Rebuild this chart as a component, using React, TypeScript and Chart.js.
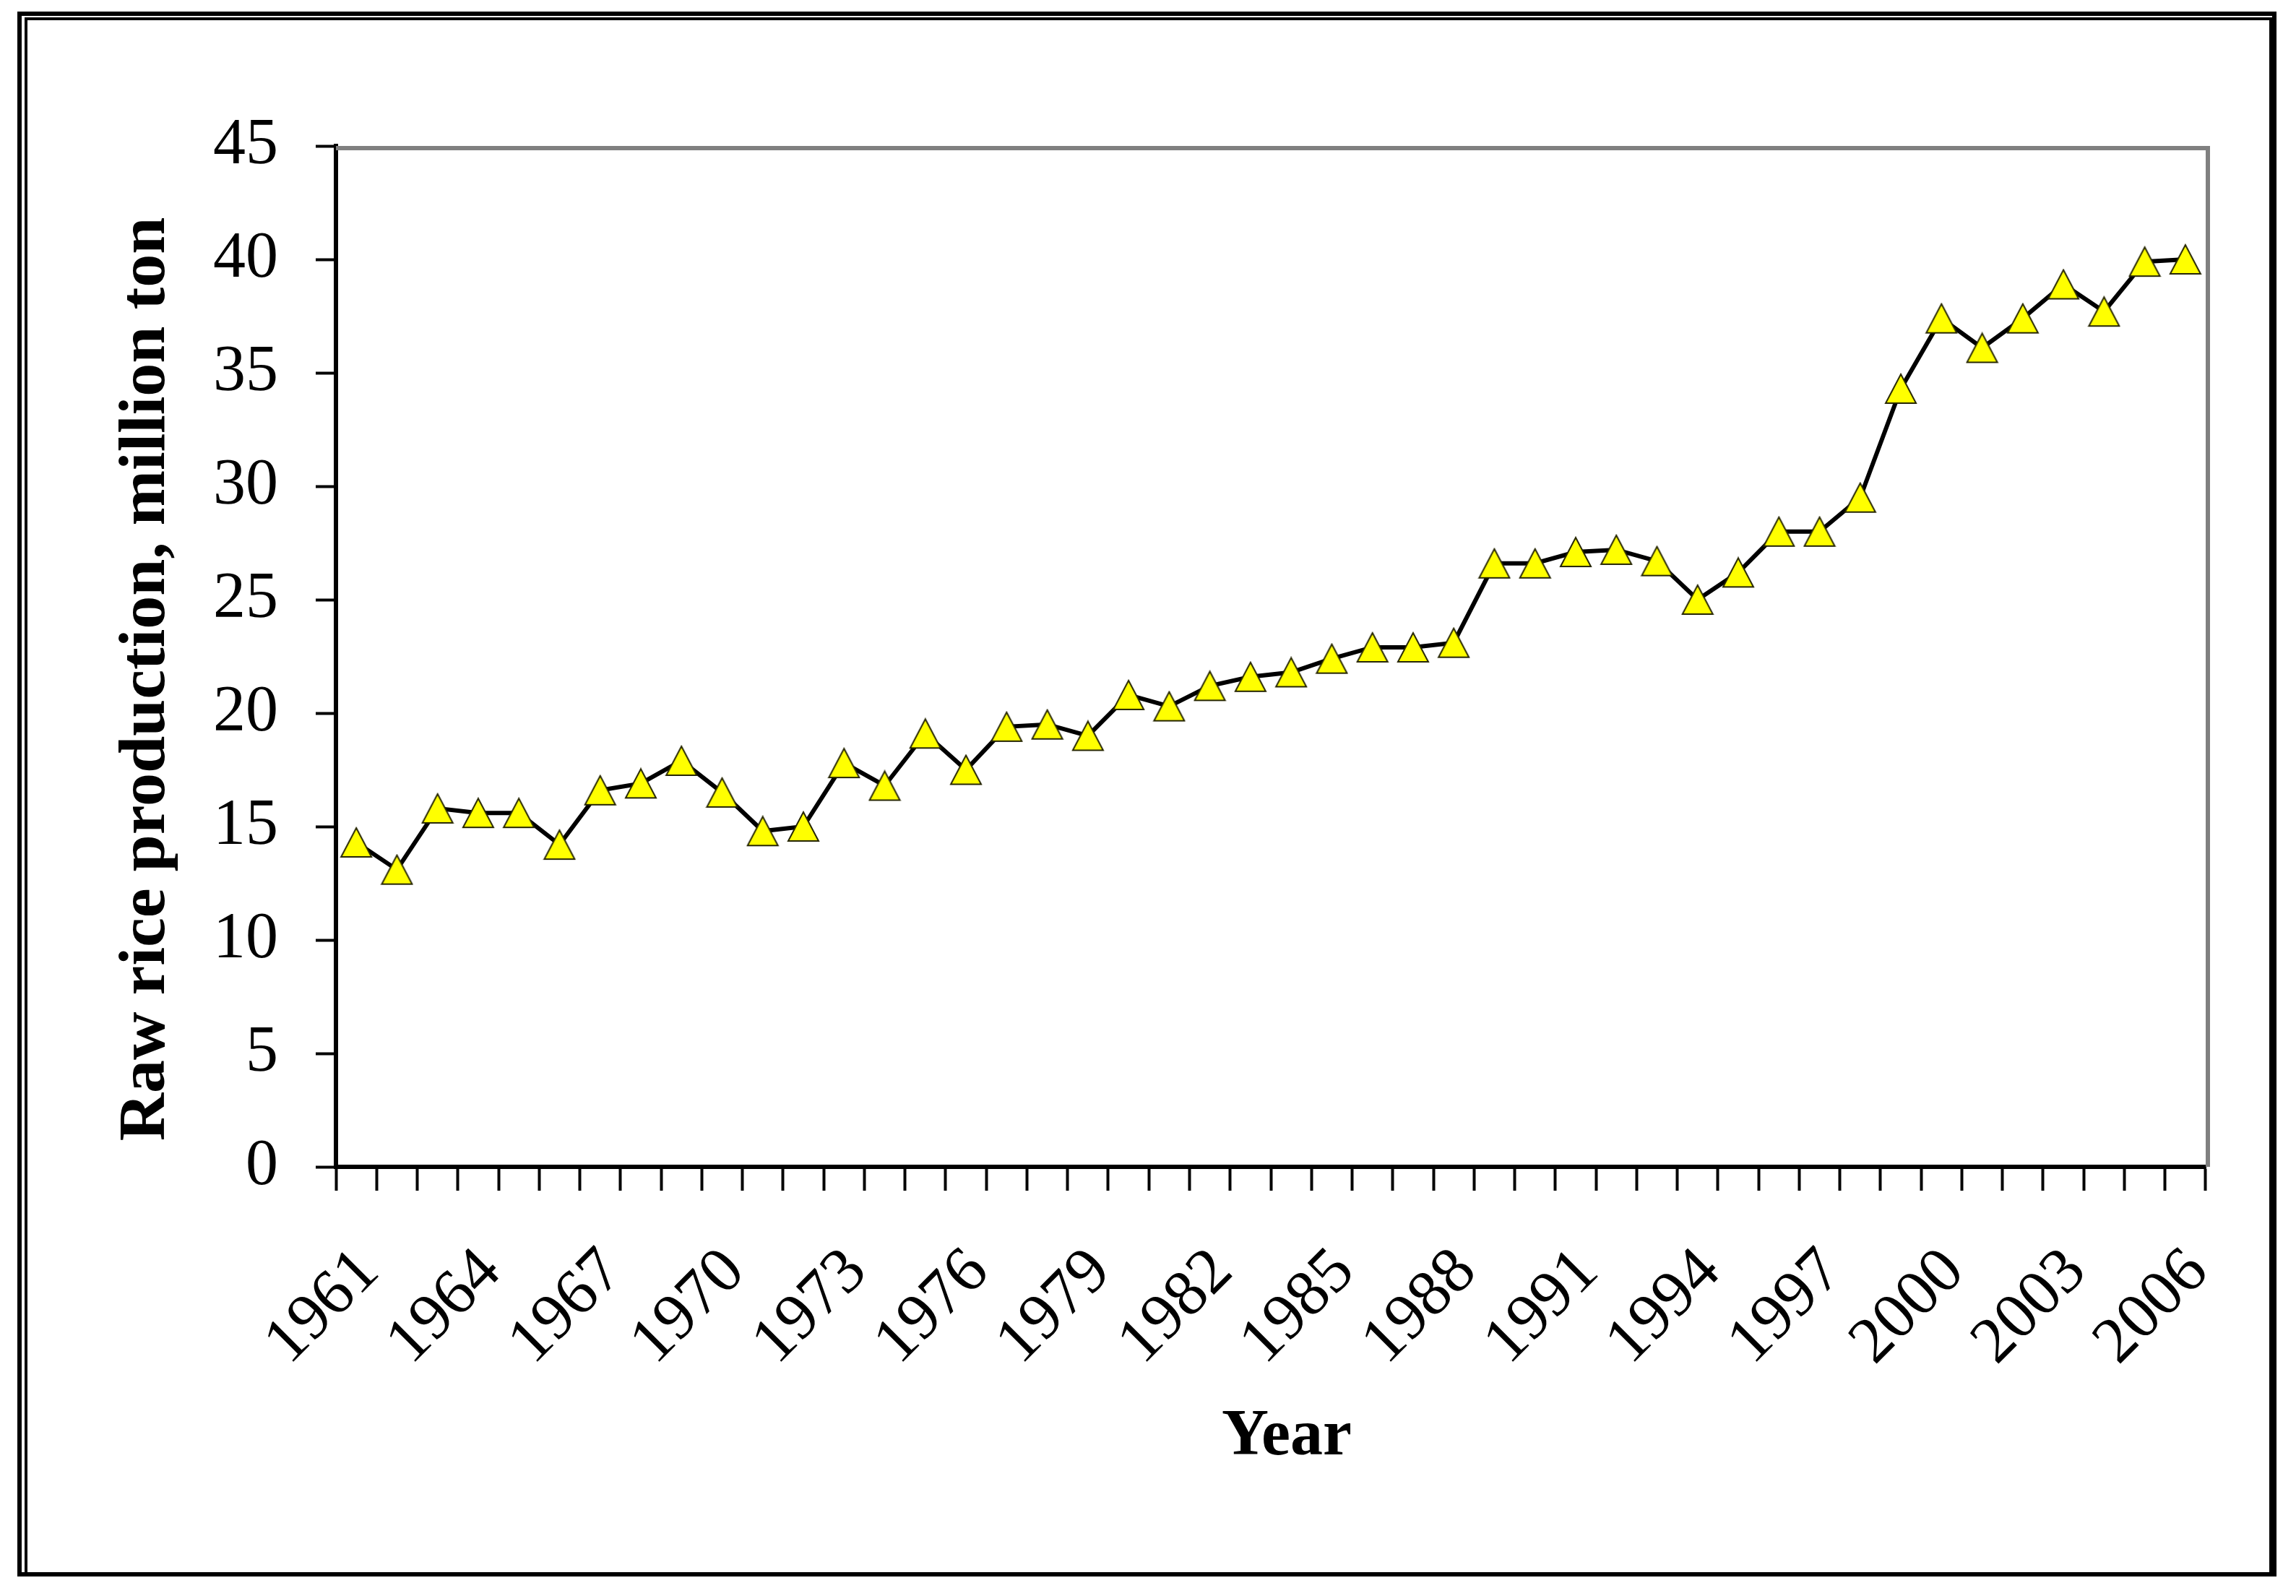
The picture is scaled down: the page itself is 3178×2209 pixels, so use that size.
import React, { useEffect, useRef } from "react";
import { Chart, registerables } from "chart.js";

Chart.register(...registerables);

const years: string[] = [
  "1961", "1962", "1963", "1964", "1965", "1966", "1967", "1968", "1969", "1970",
  "1971", "1972", "1973", "1974", "1975", "1976", "1977", "1978", "1979", "1980",
  "1981", "1982", "1983", "1984", "1985", "1986", "1987", "1988", "1989", "1990",
  "1991", "1992", "1993", "1994", "1995", "1996", "1997", "1998", "1999", "2000",
  "2001", "2002", "2003", "2004", "2005", "2006",
];

const riceProduction: number[] = [
  14.3, 13.1, 15.8, 15.6, 15.6, 14.2, 16.6, 16.9, 17.9, 16.5,
  14.8, 15.0, 17.8, 16.8, 19.1, 17.5, 19.4, 19.5, 19.0, 20.8,
  20.3, 21.2, 21.6, 21.8, 22.4, 22.9, 22.9, 23.1, 26.6, 26.6,
  27.1, 27.2, 26.7, 25.0, 26.2, 28.0, 28.0, 29.5, 34.3, 37.4,
  36.1, 37.4, 38.9, 37.7, 39.9, 40.0,
];

const yTitle = "Raw rice production, million ton";
const xTitle = "Year";
const yMin = 0;
const yMax = 45;
const yStep = 5;
const labelEvery = 3;

const W = 3178;
const H = 2209;

function makeTriangle(): HTMLCanvasElement {
  const c = document.createElement("canvas");
  c.width = 46;
  c.height = 44;
  const ctx = c.getContext("2d")!;
  ctx.beginPath();
  ctx.moveTo(23, 2);
  ctx.lineTo(44, 42);
  ctx.lineTo(2, 42);
  ctx.closePath();
  ctx.fillStyle = "#FFFF00";
  ctx.fill();
  ctx.lineWidth = 2;
  ctx.strokeStyle = "#262600";
  ctx.stroke();
  return c;
}

const framePlugin = {
  id: "framePlugin",
  beforeDraw(chart: any) {
    const ctx = chart.ctx;
    ctx.save();
    ctx.fillStyle = "#ffffff";
    ctx.fillRect(0, 0, W, H);
    ctx.strokeStyle = "#000000";
    ctx.lineWidth = 6;
    ctx.strokeRect(27, 19, 3121, 2160);
    ctx.lineWidth = 4;
    ctx.strokeRect(36, 26, 3107, 2152);
    ctx.restore();
  },
  beforeDatasetsDraw(chart: any) {
    const { ctx, chartArea } = chart;
    ctx.save();
    ctx.strokeStyle = "#808080";
    ctx.lineWidth = 6;
    ctx.beginPath();
    ctx.moveTo(chartArea.left, chartArea.top + 3);
    ctx.lineTo(chartArea.right + 3, chartArea.top + 3);
    ctx.lineTo(chartArea.right + 3, chartArea.bottom);
    ctx.stroke();
    ctx.restore();
  },
  afterDraw(chart: any) {
    const ctx = chart.ctx;
    ctx.save();
    ctx.fillStyle = "#000000";
    ctx.textAlign = "center";
    ctx.textBaseline = "alphabetic";
    ctx.font = "bold 92px 'Liberation Serif'";
    ctx.translate(227, 940);
    ctx.rotate(-Math.PI / 2);
    ctx.fillText(yTitle, 0, 0);
    ctx.restore();

    ctx.save();
    ctx.fillStyle = "#000000";
    ctx.textAlign = "center";
    ctx.textBaseline = "alphabetic";
    ctx.font = "bold 90px 'Liberation Serif'";
    ctx.fillText(xTitle, 1781, 2013);
    ctx.restore();
  },
};

export default function App() {
  const canvasRef = useRef<HTMLCanvasElement | null>(null);

  useEffect(() => {
    if (!canvasRef.current) return;
    const triangle = makeTriangle();
    const chart = new Chart(canvasRef.current, {
      type: "line",
      data: {
        labels: years,
        datasets: [
          {
            data: riceProduction,
            borderColor: "#000000",
            borderWidth: 6,
            tension: 0,
            pointStyle: triangle as any,
            pointRadius: 23,
            clip: false as any,
          },
        ],
      },
      options: {
        responsive: false,
        animation: false,
        devicePixelRatio: 1,
        layout: { padding: { left: 0, top: 202, right: 125, bottom: 0 } },
        plugins: {
          legend: { display: false },
          tooltip: { enabled: false },
        },
        scales: {
          y: {
            min: yMin,
            max: yMax,
            afterFit: (scale: any) => {
              scale.width = 465;
            },
            ticks: {
              stepSize: yStep,
              color: "#000000",
              padding: 52,
              font: { family: "Liberation Serif", size: 90 },
            },
            grid: {
              drawOnChartArea: false,
              drawTicks: true,
              tickLength: 28,
              tickColor: "#000000",
              tickWidth: 4,
            },
            border: { display: true, color: "#000000", width: 6 },
            title: { display: false, text: yTitle },
          },
          x: {
            offset: true,
            afterFit: (scale: any) => {
              scale.height = 594;
            },
            ticks: {
              autoSkip: false,
              minRotation: 45,
              maxRotation: 45,
              padding: 60,
              labelOffset: 18,
              color: "#000000",
              font: { family: "Liberation Serif", size: 90 },
              callback: function (this: any, val: any, index: number) {
                return index % labelEvery === 0 ? this.getLabelForValue(val) : "";
              },
            },
            grid: {
              offset: true,
              drawOnChartArea: false,
              drawTicks: true,
              tickLength: 33,
              tickColor: "#000000",
              tickWidth: 4,
            },
            border: { display: true, color: "#000000", width: 6 },
            title: { display: false, text: xTitle },
          },
        },
      },
      plugins: [framePlugin],
    });
    return () => chart.destroy();
  }, []);

  return (
    <div style={{ position: "absolute", left: 0, top: 0, width: W, height: H }}>
      <canvas ref={canvasRef} width={W} height={H} style={{ display: "block" }} />
    </div>
  );
}
